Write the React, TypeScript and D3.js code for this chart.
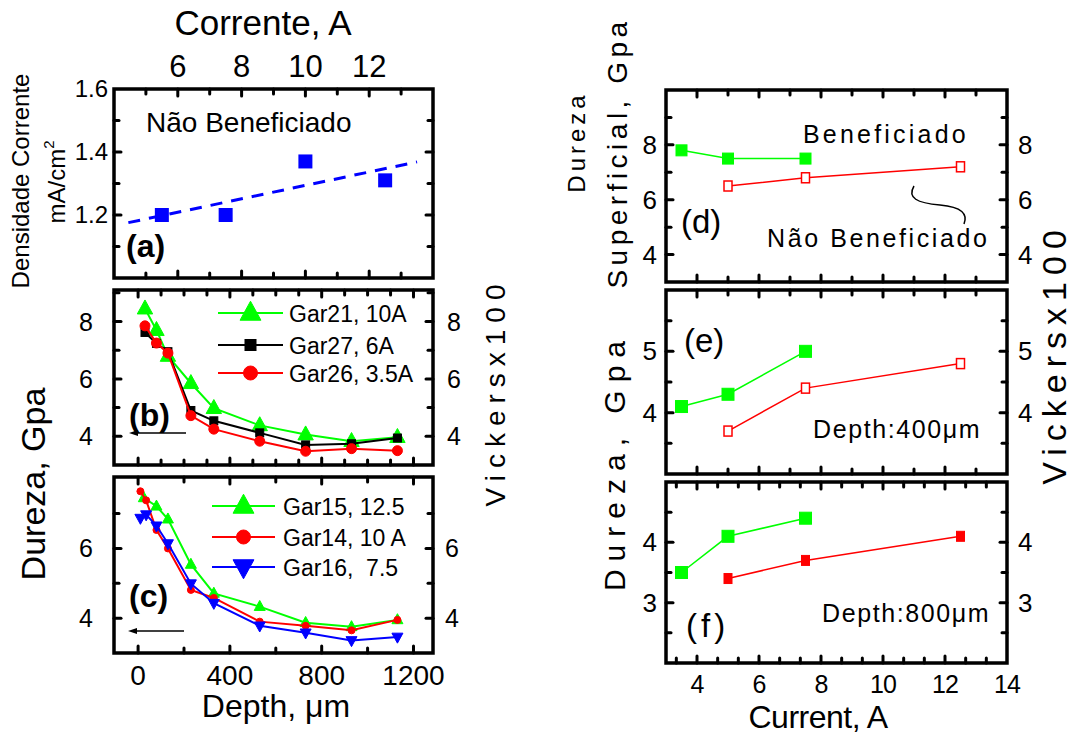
import React from "react";
import * as d3 from "d3";

// ---------- DATA ----------
// (a) current density vs current
const currentA = [5.5, 7.5, 10, 12.5];
const densityA = [1.2, 1.2, 1.37, 1.31];
const fitRangeA = [4.45, 13.5];

// (b) hardness vs depth
const depthB = [30, 80, 130, 230, 330, 530, 730, 930, 1130];
const gar21 = [8.45, 7.7, 6.8, 5.85, 4.98, 4.38, 4.06, 3.83, 3.97];
const gar27 = [7.62, 7.24, 6.95, 4.9, 4.54, 4.12, 3.7, 3.74, 3.94];
const gar26 = [7.85, 7.25, 6.9, 4.72, 4.25, 3.83, 3.48, 3.57, 3.5];

// (c) hardness vs depth
const depthC15 = [25, 80, 130, 230, 330, 530, 730, 930, 1130];
const gar15 = [7.45, 7.21, 6.84, 5.54, 4.71, 4.33, 3.87, 3.75, 3.95];
const depthC = [10, 35, 80, 130, 230, 330, 530, 730, 930, 1130];
const gar14 = [7.64, 7.38, 6.53, 6.0, 4.81, 4.58, 3.9, 3.78, 3.65, 3.95];
const gar16 = [6.87, 6.97, 6.65, 6.14, 4.99, 4.43, 3.78, 3.58, 3.36, 3.46];

// (d)(e)(f) hardness vs current
const currentBen = [3.5, 5, 7.5];
const currentNao = [5, 7.5, 12.5];
const benD = [7.8, 7.5, 7.5];
const naoD = [6.5, 6.8, 7.2];
const benE = [4.1, 4.3, 5.0];
const naoE = [3.7, 4.4, 4.8];
const benF = [3.5, 4.1, 4.4];
const naoF = [3.4, 3.7, 4.1];

// tick labels
const topTicksA = [6, 8, 10, 12];
const yTicksA = [1.2, 1.4, 1.6];
const yTicksB = [4, 6, 8];
const yTicksC = [4, 6];
const xTicksDepth = [0, 400, 800, 1200];
const yTicksD = [4, 6, 8];
const yTicksE = [4, 5];
const yTicksF = [3, 4];
const xTicksCur = [4, 6, 8, 10, 12, 14];

const legendB = ["Gar21, 10A", "Gar27, 6A", "Gar26, 3.5A"];
const legendC = ["Gar15, 12.5", "Gar14, 10 A", "Gar16,  7.5"];

// ---------- LAYOUT ----------
const FONT = "'Liberation Sans', Arial, Helvetica, sans-serif";
const GREEN = "#00ff00";
const RED = "#ff0000";
const BLUE = "#0000ff";

const L = { x0: 114, x1: 433 };
const R = { x0: 666, x1: 1007 };

const xCurA = d3.scaleLinear().domain([4, 14]).range([L.x0, L.x1]);
const xDepth = d3.scaleLinear().domain([-105, 1285]).range([L.x0, L.x1]);
const yA = d3.scaleLinear().domain([1.0, 1.6]).range([278, 89]);
const yB = d3.scaleLinear().domain([3.0, 9.1]).range([465, 290]);
const yC = d3.scaleLinear().domain([3.0, 8.05]).range([653, 477]);

const xCur = d3.scaleLinear().domain([3, 14]).range([R.x0, R.x1]);
const yD = d3.scaleLinear().domain([3, 10]).range([282, 90]);
const yE = d3.scaleLinear().domain([3, 6]).range([474, 290]);
const yF = d3.scaleLinear().domain([2, 5]).range([663, 482]);

type S = d3.ScaleLinear<number, number>;

function stepTicks(a: number, b: number, step: number) {
  const out: number[] = [];
  const n = Math.round((b - a) / step);
  for (let i = 0; i <= n; i++) out.push(+(a + i * step).toFixed(4));
  return out;
}

function Frame({ x, y, xt, yt, majX, majY }: { x: S; y: S; xt: number[]; yt: number[]; majX: number[]; majY: number[] }) {
  const [x0, x1] = x.range();
  const [y1, y0] = y.range();
  const isMaj = (arr: number[], v: number) => arr.some((m) => Math.abs(m - v) < 1e-6);
  const els: any[] = [];
  xt.forEach((v, i) => {
    const px = x(v);
    if (px <= x0 + 2 || px >= x1 - 2) return;
    const len = isMaj(majX, v) ? 7 : 5;
    els.push(<line key={"xb" + i} x1={px} x2={px} y1={y1} y2={y1 - len} />);
    els.push(<line key={"xt" + i} x1={px} x2={px} y1={y0} y2={y0 + len} />);
  });
  yt.forEach((v, i) => {
    const py = y(v);
    if (py <= y0 + 2 || py >= y1 - 2) return;
    const len = isMaj(majY, v) ? 7 : 5;
    els.push(<line key={"yl" + i} x1={x0} x2={x0 + len} y1={py} y2={py} />);
    els.push(<line key={"yr" + i} x1={x1} x2={x1 - len} y1={py} y2={py} />);
  });
  return (
    <g>
      <g stroke="#000" strokeWidth={3} strokeLinecap="round">{els}</g>
      <rect x={x0} y={y0} width={x1 - x0} height={y1 - y0} fill="none" stroke="#000" strokeWidth={3.5} />
    </g>
  );
}

function lineOf(x: S, y: S, xs: number[], ys: number[]) {
  return d3.line<number>().x((_, i) => x(xs[i])).y((d) => y(d))(ys) || "";
}

const triUp = (s: number) => `M0,${-s * 0.62}L${s * 0.55},${s * 0.38}L${-s * 0.55},${s * 0.38}Z`;
const triDown = (s: number) => `M0,${s * 0.62}L${s * 0.55},${-s * 0.38}L${-s * 0.55},${-s * 0.38}Z`;

function Marker({ kind, cx, cy, s, color, open }: { kind: string; cx: number; cy: number; s: number; color: string; open?: boolean }) {
  const fill = open ? "#fff" : color;
  if (kind === "circle") return <circle cx={cx} cy={cy} r={s / 2} fill={fill} stroke={color} strokeWidth={1} />;
  if (kind === "square") return <rect x={cx - s / 2} y={cy - s / 2} width={s} height={s} fill={fill} stroke={color} strokeWidth={open ? 1.5 : 1} />;
  if (kind === "rect") return <rect x={cx - s * 0.4} y={cy - s / 2} width={s * 0.8} height={s} fill={fill} stroke={color} strokeWidth={open ? 1.5 : 1} />;
  if (kind === "tri") return <path d={triUp(s)} transform={`translate(${cx},${cy})`} fill={fill} stroke={color} strokeWidth={1} />;
  return <path d={triDown(s)} transform={`translate(${cx},${cy})`} fill={fill} stroke={color} strokeWidth={1} />;
}

function Series({ x, y, xs, ys, color, kind, s, w = 2, open }: { x: S; y: S; xs: number[]; ys: number[]; color: string; kind: string; s: number; w?: number; open?: boolean }) {
  return (
    <g>
      <path d={lineOf(x, y, xs, ys)} fill="none" stroke={color} strokeWidth={w} />
      {ys.map((v, i) => (
        <Marker key={i} kind={kind} cx={x(xs[i])} cy={y(v)} s={s} color={color} open={open} />
      ))}
    </g>
  );
}

function Arrow({ x1, x2, y }: { x1: number; x2: number; y: number }) {
  return (
    <g>
      <line x1={x1} x2={x2 + 4} y1={y} y2={y} stroke="#000" strokeWidth={1.5} />
      <path d={`M${x2},${y}L${x2 + 9},${y - 3}L${x2 + 9},${y + 3}Z`} fill="#000" />
    </g>
  );
}

function Legend({ x0, x1, xt, ys, labels, items }: { x0: number; x1: number; xt: number; ys: number[]; labels: string[]; items: { color: string; kind: string; s: number }[] }) {
  return (
    <g>
      {labels.map((lab, i) => (
        <g key={i}>
          <line x1={x0} x2={x1} y1={ys[i]} y2={ys[i]} stroke={items[i].color} strokeWidth={2} />
          <Marker kind={items[i].kind} cx={(x0 + x1) / 2} cy={ys[i]} s={items[i].s} color={items[i].color} />
          <text x={xt} y={ys[i] + 8.5} fontSize={23} fontFamily={FONT} fill="#000" style={{ whiteSpace: "pre" }}>
            {lab}
          </text>
        </g>
      ))}
    </g>
  );
}

function VText({ x, y, size, children, ls = 0, weight = "normal" }: { x: number; y: number; size: number; children: any; ls?: number; weight?: string }) {
  return (
    <text
      transform={`translate(${x},${y}) rotate(-90)`}
      textAnchor="middle"
      fontSize={size}
      fontFamily={FONT}
      fontWeight={weight}
      letterSpacing={ls}
      fill="#000"
    >
      {children}
    </text>
  );
}

export default function App() {
  // fit line for (a): least squares through the measured points
  const mx = d3.mean(currentA)!;
  const my = d3.mean(densityA)!;
  const sxy = d3.sum(currentA.map((v, i) => (v - mx) * (densityA[i] - my)));
  const sxx = d3.sum(currentA.map((v) => (v - mx) * (v - mx)));
  const slope = sxy / sxx;
  const icpt = my - slope * mx;
  const fitY = fitRangeA.map((v) => icpt + slope * v);

  const tickLabel = (props: any) => <text fontFamily={FONT} fill="#000" {...props} />;

  return (
    <svg width={1076} height={736} style={{ position: "absolute", left: 0, top: 0, background: "#fff" }}>
      <rect x={0} y={0} width={1076} height={736} fill="#fff" />

      {/* ================= LEFT GROUP ================= */}
      {/* (a) */}
      <Frame x={xCurA} y={yA} xt={stepTicks(4, 14, 1)} yt={stepTicks(1.0, 1.6, 0.1)} majX={topTicksA} majY={yTicksA} />
      <path
        d={d3.line<number>().x((v) => xCurA(v)).y((_, i) => yA(fitY[i]))(fitRangeA) || ""}
        stroke={BLUE}
        strokeWidth={3}
        strokeDasharray="12,9"
        fill="none"
      />
      {currentA.map((v, i) => (
        <rect key={i} x={xCurA(v) - 7} y={yA(densityA[i]) - 7} width={14} height={14} fill={BLUE} />
      ))}
      <text x={146} y={132} fontSize={28} fontFamily={FONT} fill="#000">Não Beneficiado</text>
      <text x={126} y={257} fontSize={32} fontWeight="bold" fontFamily={FONT} fill="#000">(a)</text>
      {yTicksA.map((v) => tickLabel({ key: v, x: 108, y: yA(v) + 8, fontSize: 24, textAnchor: "end", children: v.toFixed(1) }))}
      {topTicksA.map((v) => tickLabel({ key: v, x: xCurA(v), y: 77, fontSize: 31, textAnchor: "middle", children: v }))}
      <text x={263} y={35} fontSize={35} textAnchor="middle" fontFamily={FONT} fill="#000">Corrente, A</text>

      {/* (b) */}
      <Frame x={xDepth} y={yB} xt={stepTicks(0, 1200, 100)} yt={stepTicks(3, 9, 1)} majX={[0, 400, 800, 1200]} majY={yTicksB} />
      <Series x={xDepth} y={yB} xs={depthB} ys={gar21} color={GREEN} kind="tri" s={14} />
      <Series x={xDepth} y={yB} xs={depthB} ys={gar27} color="#000" kind="square" s={8} />
      <Series x={xDepth} y={yB} xs={depthB} ys={gar26} color={RED} kind="circle" s={10} />
      <Legend
        x0={218} x1={283} xt={289} ys={[313, 345, 373]} labels={legendB}
        items={[{ color: GREEN, kind: "tri", s: 19 }, { color: "#000", kind: "square", s: 11 }, { color: RED, kind: "circle", s: 14 }]}
      />
      <text x={129} y={426} fontSize={32} fontWeight="bold" fontFamily={FONT} fill="#000">(b)</text>
      <Arrow x1={186} x2={129} y={433} />
      {yTicksB.map((v) => tickLabel({ key: "l" + v, x: 93, y: yB(v) + 9, fontSize: 25, textAnchor: "end", children: v }))}
      {yTicksB.map((v) => tickLabel({ key: "r" + v, x: 447, y: yB(v) + 9, fontSize: 25, children: v }))}

      {/* (c) */}
      <Frame x={xDepth} y={yC} xt={stepTicks(0, 1200, 200)} yt={stepTicks(3, 8, 1)} majX={xTicksDepth} majY={[4, 6, 8]} />
      <Series x={xDepth} y={yC} xs={depthC15} ys={gar15} color={GREEN} kind="tri" s={10} />
      <Series x={xDepth} y={yC} xs={depthC} ys={gar14} color={RED} kind="circle" s={7} />
      <Series x={xDepth} y={yC} xs={depthC} ys={gar16} color={BLUE} kind="triDown" s={10} />
      <Legend
        x0={212} x1={275} xt={283} ys={[506, 537, 567]} labels={legendC}
        items={[{ color: GREEN, kind: "tri", s: 19 }, { color: RED, kind: "circle", s: 14 }, { color: BLUE, kind: "triDown", s: 19 }]}
      />
      <text x={129} y={607} fontSize={32} fontWeight="bold" fontFamily={FONT} fill="#000">(c)</text>
      <Arrow x1={184} x2={128} y={631} />
      {yTicksC.map((v) => tickLabel({ key: "l" + v, x: 93, y: yC(v) + 9, fontSize: 25, textAnchor: "end", children: v }))}
      {yTicksC.map((v) => tickLabel({ key: "r" + v, x: 445, y: yC(v) + 9, fontSize: 25, children: v }))}
      {xTicksDepth.map((v) => tickLabel({ key: "x" + v, x: xDepth(v), y: 685, fontSize: 28, textAnchor: "middle", children: v }))}
      <text x={276} y={717} fontSize={32} textAnchor="middle" fontFamily={FONT} fill="#000">Depth, μm</text>

      {/* left axis titles */}
      <VText x={29} y={181} size={24}>Densidade Corrente</VText>
      <text transform="translate(65,182) rotate(-90)" textAnchor="middle" fontSize={24} fontFamily={FONT} fill="#000">
        mA/cm<tspan fontSize={15} dy={-11}>2</tspan>
      </text>
      <VText x={45} y={484} size={34}>Dureza, Gpa</VText>
      <VText x={505} y={392} size={28} ls={7}>Vickersx100</VText>

      {/* ================= RIGHT GROUP ================= */}
      {/* (d) */}
      <Frame x={xCur} y={yD} xt={stepTicks(3, 14, 1)} yt={stepTicks(3, 10, 1)} majX={xTicksCur} majY={yTicksD} />
      <Series x={xCur} y={yD} xs={currentBen} ys={benD} color={GREEN} kind="square" s={11} w={1.5} />
      <Series x={xCur} y={yD} xs={currentNao} ys={naoD} color={RED} kind="rect" s={10} w={1.5} open />
      <text x={803} y={143} fontSize={25} letterSpacing={3.2} fontFamily={FONT} fill="#000">Beneficiado</text>
      <text x={767} y={247} fontSize={25} letterSpacing={2.6} fontFamily={FONT} fill="#000">Não Beneficiado</text>
      <text x={681} y={233} fontSize={33} fontFamily={FONT} fill="#000">(d)</text>
      <path d="M914,186 C907,198 917,203 940,205 C962,207 968,214 964,224" fill="none" stroke="#000" strokeWidth={1.5} />
      {yTicksD.map((v) => tickLabel({ key: "l" + v, x: 657, y: yD(v) + 9, fontSize: 26, textAnchor: "end", children: v }))}
      {yTicksD.map((v) => tickLabel({ key: "r" + v, x: 1018, y: yD(v) + 9, fontSize: 26, children: v }))}

      {/* (e) */}
      <Frame x={xCur} y={yE} xt={stepTicks(3, 14, 1)} yt={stepTicks(3, 6, 0.5)} majX={xTicksCur} majY={yTicksE} />
      <Series x={xCur} y={yE} xs={currentBen} ys={benE} color={GREEN} kind="square" s={12} w={1.5} />
      <Series x={xCur} y={yE} xs={currentNao} ys={naoE} color={RED} kind="rect" s={10} w={1.5} open />
      <text x={684} y={352} fontSize={33} fontFamily={FONT} fill="#000">(e)</text>
      <text x={813} y={438} fontSize={25} letterSpacing={1.6} fontFamily={FONT} fill="#000">Depth:400μm</text>
      {yTicksE.map((v) => tickLabel({ key: "l" + v, x: 657, y: yE(v) + 9, fontSize: 26, textAnchor: "end", children: v }))}
      {yTicksE.map((v) => tickLabel({ key: "r" + v, x: 1018, y: yE(v) + 9, fontSize: 26, children: v }))}

      {/* (f) */}
      <Frame x={xCur} y={yF} xt={stepTicks(10 / 3, 14, 2 / 3)} yt={stepTicks(2, 5, 0.5)} majX={xTicksCur} majY={yTicksF} />
      <Series x={xCur} y={yF} xs={currentBen} ys={benF} color={GREEN} kind="square" s={12} w={1.5} />
      <Series x={xCur} y={yF} xs={currentNao} ys={naoF} color={RED} kind="rect" s={10} w={1.5} />
      <text x={686} y={637} fontSize={33} letterSpacing={4} fontFamily={FONT} fill="#000">(f)</text>
      <text x={822} y={622} fontSize={25} letterSpacing={1.6} fontFamily={FONT} fill="#000">Depth:800μm</text>
      {yTicksF.map((v) => tickLabel({ key: "l" + v, x: 657, y: yF(v) + 9, fontSize: 26, textAnchor: "end", children: v }))}
      {yTicksF.map((v) => tickLabel({ key: "r" + v, x: 1018, y: yF(v) + 9, fontSize: 26, children: v }))}
      {xTicksCur.map((v) => tickLabel({ key: "x" + v, x: xCur(v), y: 693, fontSize: 25, textAnchor: "middle", letterSpacing: -1, children: v }))}
      <text x={818} y={728} fontSize={32} textAnchor="middle" letterSpacing={-0.5} fontFamily={FONT} fill="#000">Current, A</text>

      {/* right axis titles */}
      <VText x={585} y={142} size={24} ls={4}>Dureza</VText>
      <VText x={627} y={153} size={28} ls={4.5}>Superficial, Gpa</VText>
      <VText x={625} y={462} size={30} ls={8}>Dureza, Gpa</VText>
      <VText x={1066} y={354} size={34} ls={7}>Vickersx100</VText>
    </svg>
  );
}
